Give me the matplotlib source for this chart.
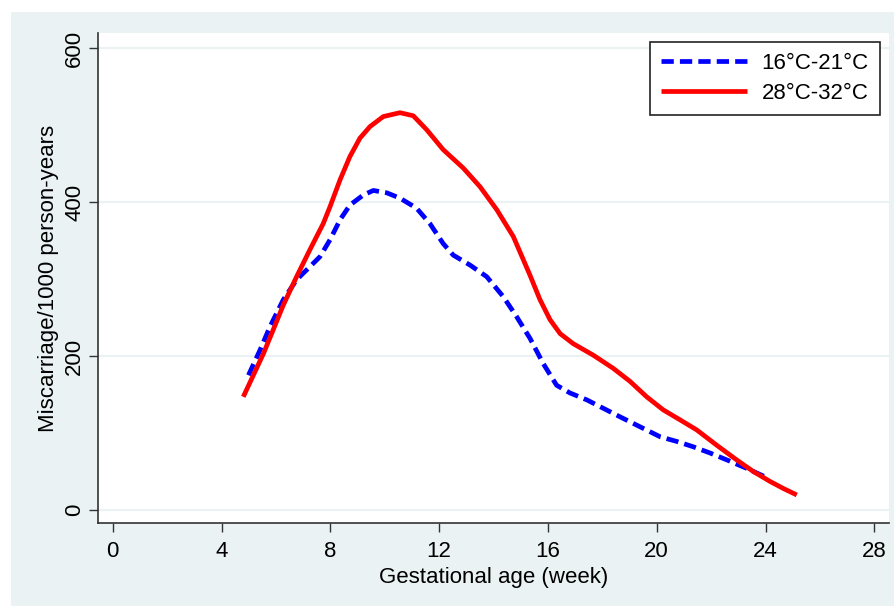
import matplotlib
matplotlib.use("Agg")
import matplotlib.pyplot as plt
from matplotlib.patches import Rectangle

plt.rcParams['font.family'] = ['Liberation Sans', 'DejaVu Sans']

# 16°C-21°C series
x_cool = [4.99, 5.42, 5.78, 6.27, 6.76, 7.25, 7.62, 7.99, 8.36, 8.72, 9.21, 9.58,
          10.07, 10.56, 11.17, 11.66, 12.15, 12.52, 13.14, 13.75, 14.36, 14.85,
          15.34, 15.83, 16.32, 16.81, 17.43, 18.04, 18.65, 19.39, 20.13, 20.74,
          21.35, 21.96, 22.58, 23.31, 23.99]
y_cool = [175, 208, 238, 273, 299, 316, 329, 351, 377, 396, 409, 415,
          412, 405, 392, 372, 346, 331, 318, 303, 277, 251,
          223, 190, 162, 152, 143, 132, 121, 108, 95, 89,
          82, 74, 65, 54, 43]

# 28°C-32°C series
x_hot = [4.80, 5.17, 5.54, 5.90, 6.27, 6.76, 7.25, 7.74, 7.99, 8.36, 8.72, 9.09,
         9.46, 9.95, 10.56, 11.05, 11.54, 12.15, 12.89, 13.50, 14.12, 14.73,
         15.34, 15.71, 16.08, 16.45, 16.93, 17.67, 18.40, 19.02, 19.63, 20.24,
         20.86, 21.47, 22.21, 22.94, 23.55, 24.17, 24.65, 25.15]
y_hot = [147, 175, 203, 234, 266, 303, 338, 372, 394, 429, 459, 483,
         498, 511, 516, 512, 494, 468, 444, 420, 390, 355,
         305, 273, 247, 229, 216, 201, 184, 167, 147, 130,
         117, 104, 84, 65, 50, 37, 28, 19.5]

labels = ['16°C-21°C', '28°C-32°C']
xticks = [0, 4, 8, 12, 16, 20, 24, 28]
yticks = [0, 200, 400, 600]

W, H = 895, 606
fig = plt.figure(figsize=(W / 100, H / 100), dpi=100)
fig.patch.set_facecolor('white')
bg = Rectangle((11 / W, 0), 1 - 11 / W, (H - 12) / H, transform=fig.transFigure,
               facecolor='#EAF2F3', edgecolor='none', zorder=-10)
fig.patches.append(bg)

left, right = 98.3 / W, 889 / W
bottom, top = (H - 523.3) / H, (H - 33) / H
ax = fig.add_axes([left, bottom, right - left, top - bottom])
ax.set_facecolor('white')

ax.plot(x_cool, y_cool, color='#0000FF', lw=3.4, linestyle=(0, (2.6, 1.3)),
        dash_capstyle='butt', dash_joinstyle='round', label=labels[0], zorder=3)
ax.plot(x_hot, y_hot, color='#FF0000', lw=3.4, label=labels[1], zorder=4,
        solid_joinstyle='round', solid_capstyle='butt')

ax.set_xlim(-0.53, 28.54)
ax.set_ylim(-17.3, 619.5)
ax.set_xticks(xticks)
ax.set_yticks(yticks)
ax.set_yticklabels([str(v) for v in yticks], rotation=90, va='center')
ax.tick_params(axis='both', length=6.5, width=1.0, color='#333333', labelsize=16)
ax.tick_params(axis='x', pad=6)
ax.tick_params(axis='y', pad=3)

for s in ['top', 'right']:
    ax.spines[s].set_visible(False)
for s in ['left', 'bottom']:
    ax.spines[s].set_color('#333333')
    ax.spines[s].set_linewidth(1.2)

ax.grid(axis='y', color='#EAF2F3', lw=1.5)
ax.set_axisbelow(True)

ax.set_xlabel('Gestational age (week)', fontsize=16, labelpad=4)
ax.set_ylabel('Miscarriage/1000 person-years', fontsize=16, labelpad=4)

leg = ax.legend(loc='upper right', bbox_to_anchor=(0.9886, 0.9816), fontsize=16,
                frameon=True, fancybox=False, framealpha=1, edgecolor='#222222',
                handlelength=3.9, handletextpad=0.65, labelspacing=0.4,
                borderpad=0.5, borderaxespad=0)
leg.get_frame().set_linewidth(1.2)

fig.savefig('out.png', dpi=100, facecolor=fig.get_facecolor())
